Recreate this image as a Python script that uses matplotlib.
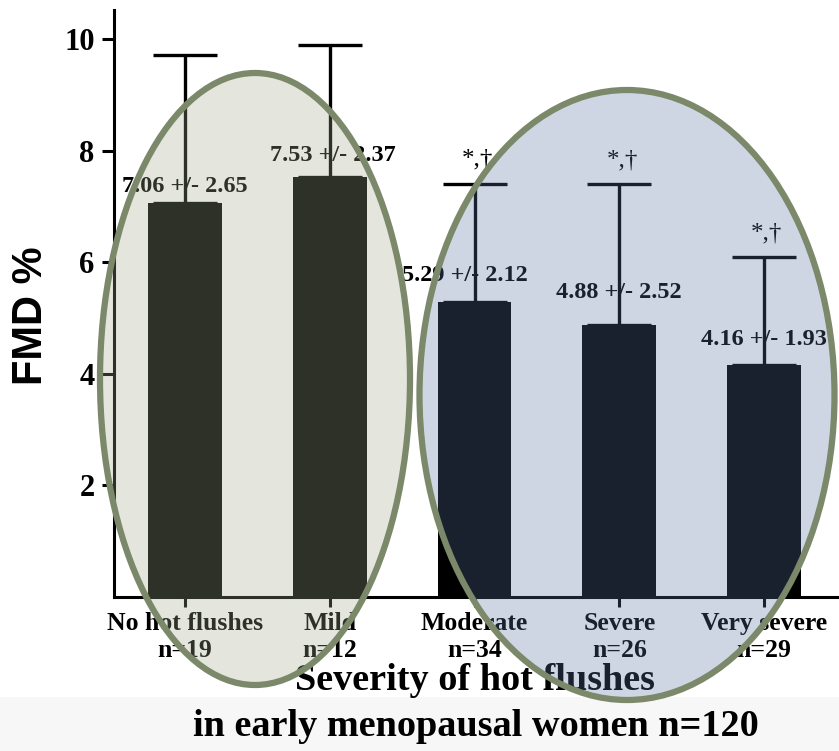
import matplotlib
matplotlib.use("Agg")
import matplotlib.pyplot as plt
from matplotlib.patches import Ellipse, Rectangle
import numpy as np

# data
categories = ["No hot flushes", "Mild", "Moderate", "Severe", "Very severe"]
group_n = [19, 12, 34, 26, 29]
fmd_mean = [7.06, 7.53, 5.29, 4.88, 4.16]
fmd_sd = [2.65, 2.37, 2.12, 2.52, 1.93]
sig_marks = ["", "", "*,\u2020", "*,\u2020", "*,\u2020"]

serif = "Liberation Serif"
sans = "Liberation Sans"

W, H = 839, 751
fig = plt.figure(figsize=(W / 100, H / 100), dpi=100)
ax = fig.add_axes([114 / W, 1 - 597 / H, (837 - 114) / W, (597 - 10) / H])

x = np.arange(len(categories))
ax.bar(x, fmd_mean, width=0.51, color="black", zorder=2)
ax.errorbar(x, fmd_mean, yerr=[np.zeros(len(x)), fmd_sd], fmt="none",
            ecolor="black", elinewidth=2.4, capsize=23, capthick=2.4, zorder=3)

ax.set_xlim(-0.4905, 4.504)
ax.set_ylim(0, 10.52)
ax.set_yticks([2, 4, 6, 8, 10])
ax.set_xticks(x)
ax.set_xticklabels([f"{c}\nn={n}" for c, n in zip(categories, group_n)])
for s in ["top", "right"]:
    ax.spines[s].set_visible(False)
for s in ["left", "bottom"]:
    ax.spines[s].set_linewidth(2.2)
ax.tick_params(axis="y", length=9, width=2.2, pad=5)
ax.tick_params(axis="x", length=7, width=2.2, pad=4)
for t in ax.get_yticklabels():
    t.set_fontfamily(serif)
    t.set_fontweight("bold")
    t.set_fontsize(22)
for t in ax.get_xticklabels():
    t.set_fontfamily(serif)
    t.set_fontweight("bold")
    t.set_fontsize(18.5)
    t.set_linespacing(1.22)

# value labels above bars (offsets in px)
lab_dy = [17, 21, 26, 32, 25]
lab_dx = [0, 3, -10, 0, 0]
for i in range(len(x)):
    ax.annotate(f"{fmd_mean[i]:.2f} +/- {fmd_sd[i]:.2f}", (x[i], fmd_mean[i]),
                xytext=(lab_dx[i] * 0.72, lab_dy[i] * 0.72), textcoords="offset points",
                ha="center", va="center", fontsize=17.5, fontweight="bold",
                family=serif, zorder=4)
    if sig_marks[i]:
        ax.annotate(sig_marks[i], (x[i], fmd_mean[i] + fmd_sd[i]),
                    xytext=(2, 17), textcoords="offset points",
                    ha="center", va="center", fontsize=18, family=serif, zorder=4)

# axis titles
fig.text(31 / W, 1 - 316 / H, "FMD %", rotation=90, ha="center", va="center",
         fontsize=30, fontweight="bold", family=sans)
fig.text(475 / W, 1 - 681 / H, "Severity of hot flushes", ha="center", va="center",
         fontsize=27.5, fontweight="bold", family=serif, zorder=0.5)
fig.text(476 / W, 1 - 726 / H, "in early menopausal women n=120", ha="center",
         va="center", fontsize=27.5, fontweight="bold", family=serif, zorder=4)

# grey strip at the bottom
fig.add_artist(Rectangle((0, 0), 1, (H - 697) / H, transform=fig.transFigure,
                         facecolor="#f7f7f7", edgecolor="none", zorder=-1))

# highlight ellipses drawn over the plot
edge = "#7b8869"
fig.add_artist(Ellipse((255 / W, 1 - 379 / H), 310 / W, 612 / H,
                       transform=fig.transFigure, facecolor=(0.635, 0.67, 0.55, 0.29),
                       edgecolor=edge, linewidth=4.5, zorder=1))
fig.add_artist(Ellipse((627 / W, 1 - 395 / H), 415 / W, 610 / H,
                       transform=fig.transFigure, facecolor=(0.345, 0.455, 0.635, 0.29),
                       edgecolor=edge, linewidth=4.5, zorder=1))

fig.savefig("out.png", dpi=100)
